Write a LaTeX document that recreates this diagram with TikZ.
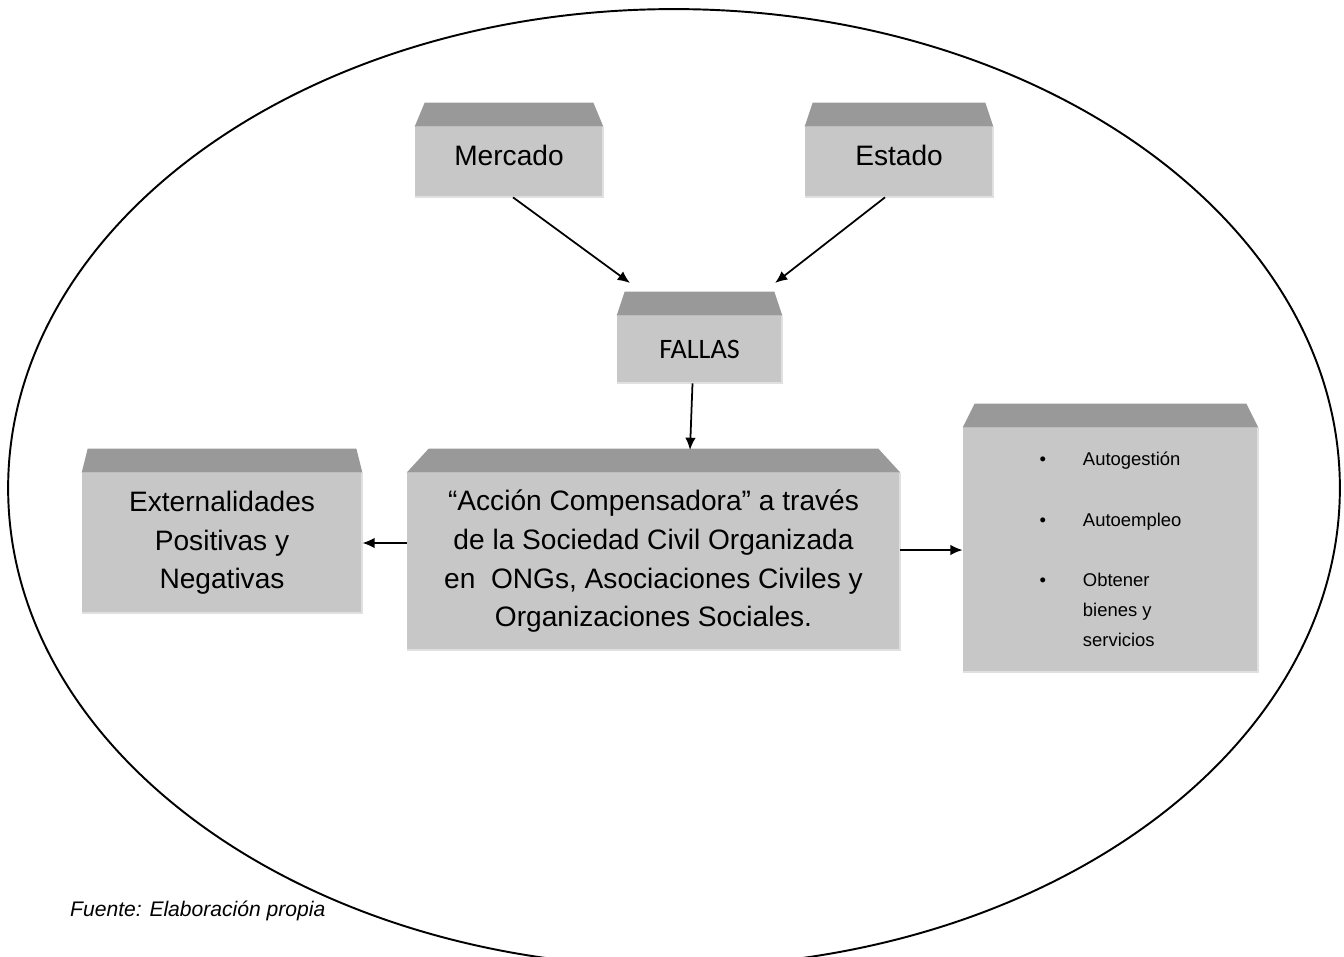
\documentclass[tikz,border=0pt]{standalone}
\usepackage{fontspec}
\setmainfont{Liberation Sans}
\newfontfamily\calibri{Carlito}
\usepackage{tikz}
\usetikzlibrary{calc,arrows.meta}
\tikzset{>={Latex[length=7pt,width=6pt]}}
\colorlet{cajagris}{black!22}
\colorlet{techogris}{black!40}
\colorlet{bordegris}{black!12}
\tikzstyle{caja}=[fill=cajagris,inner sep=0,align=center,font=\fontsize{16}{22}\selectfont]
\tikzstyle{flecha}=[->,line width=1pt]
\def\px{0.02cm}
% top face of a box: node, inset
\def\techo#1#2{\fill[techogris] (#1.north west) -- ++(#2,-24) -- ($(#1.north east)+(-#2,-24)$) -- (#1.north east) -- cycle;
  \draw[bordegris,line width=1pt] (#1.north east) -- (#1.south east) -- (#1.south west);}

\begin{document}
\begin{tikzpicture}[x=0.02cm,y=-0.02cm]
  \useasboundingbox (0,0) rectangle (1344,956);
  \draw[line width=1.1pt] (674,488) ellipse [x radius=13.32cm, y radius=9.58cm];
  % boxes
  \node[caja,minimum width=188*\px,minimum height=70*\px,text depth=8pt] (merc) at (509,162) {Mercado};
  \node[caja,minimum width=188*\px,minimum height=70*\px,text depth=8pt] (est) at (899,162) {Estado};
  \node[caja,minimum width=165*\px,minimum height=67*\px,font=\calibri\fontsize{16}{20}\selectfont] (fallas) at (699.5,349.5) {FALLAS};
  \node[caja,minimum width=493*\px,minimum height=177*\px] (acc) at (653.5,561.5)
    {``Acción Compensadora'' a través\\de la Sociedad Civil Organizada\\en~ ONGs, Asociaciones Civiles y\\Organizaciones Sociales.};
  \node[caja,minimum width=280*\px,minimum height=140*\px] (ext) at (222,543)
    {Externalidades\\Positivas y\\Negativas};
  \node[caja,minimum width=295*\px,minimum height=244*\px,font=\fontsize{10.5}{17}\selectfont] (auto) at (1110.5,550)
    {\begin{tabular}{@{}l@{\hspace{21pt}}l@{}}
      \textbullet & Autogestión\\[17.5pt]
      \textbullet & Autoempleo\\[17.5pt]
      \textbullet & Obtener\\
                  & bienes y\\
                  & servicios
    \end{tabular}};
  \techo{merc}{10}
  \techo{est}{8}
  \techo{fallas}{8}
  \techo{acc}{22}
  \techo{ext}{6}
  \techo{auto}{12}
  % arrows
  \coordinate (fm) at (630,283);
  \coordinate (fe) at (775,283);
  \coordinate (fa) at (690,450);
  \draw[flecha] ($(merc.south)+(4,0)$) -- (fm);
  \draw[flecha] ($(est.south)+(-14,0)$) -- (fe);
  \draw[flecha] ($(fallas.south)+(-7,0)$) -- (fa);
  \draw[flecha] (acc.west |- ext.east) -- (ext.east);
  \draw[flecha] (acc.east |- auto.west) -- (auto.west);
  \node[anchor=base west,font=\itshape\fontsize{12}{14}\selectfont] (fuente) at (64,916) {Fuente: Elaboración propia};
\end{tikzpicture}
\end{document}
